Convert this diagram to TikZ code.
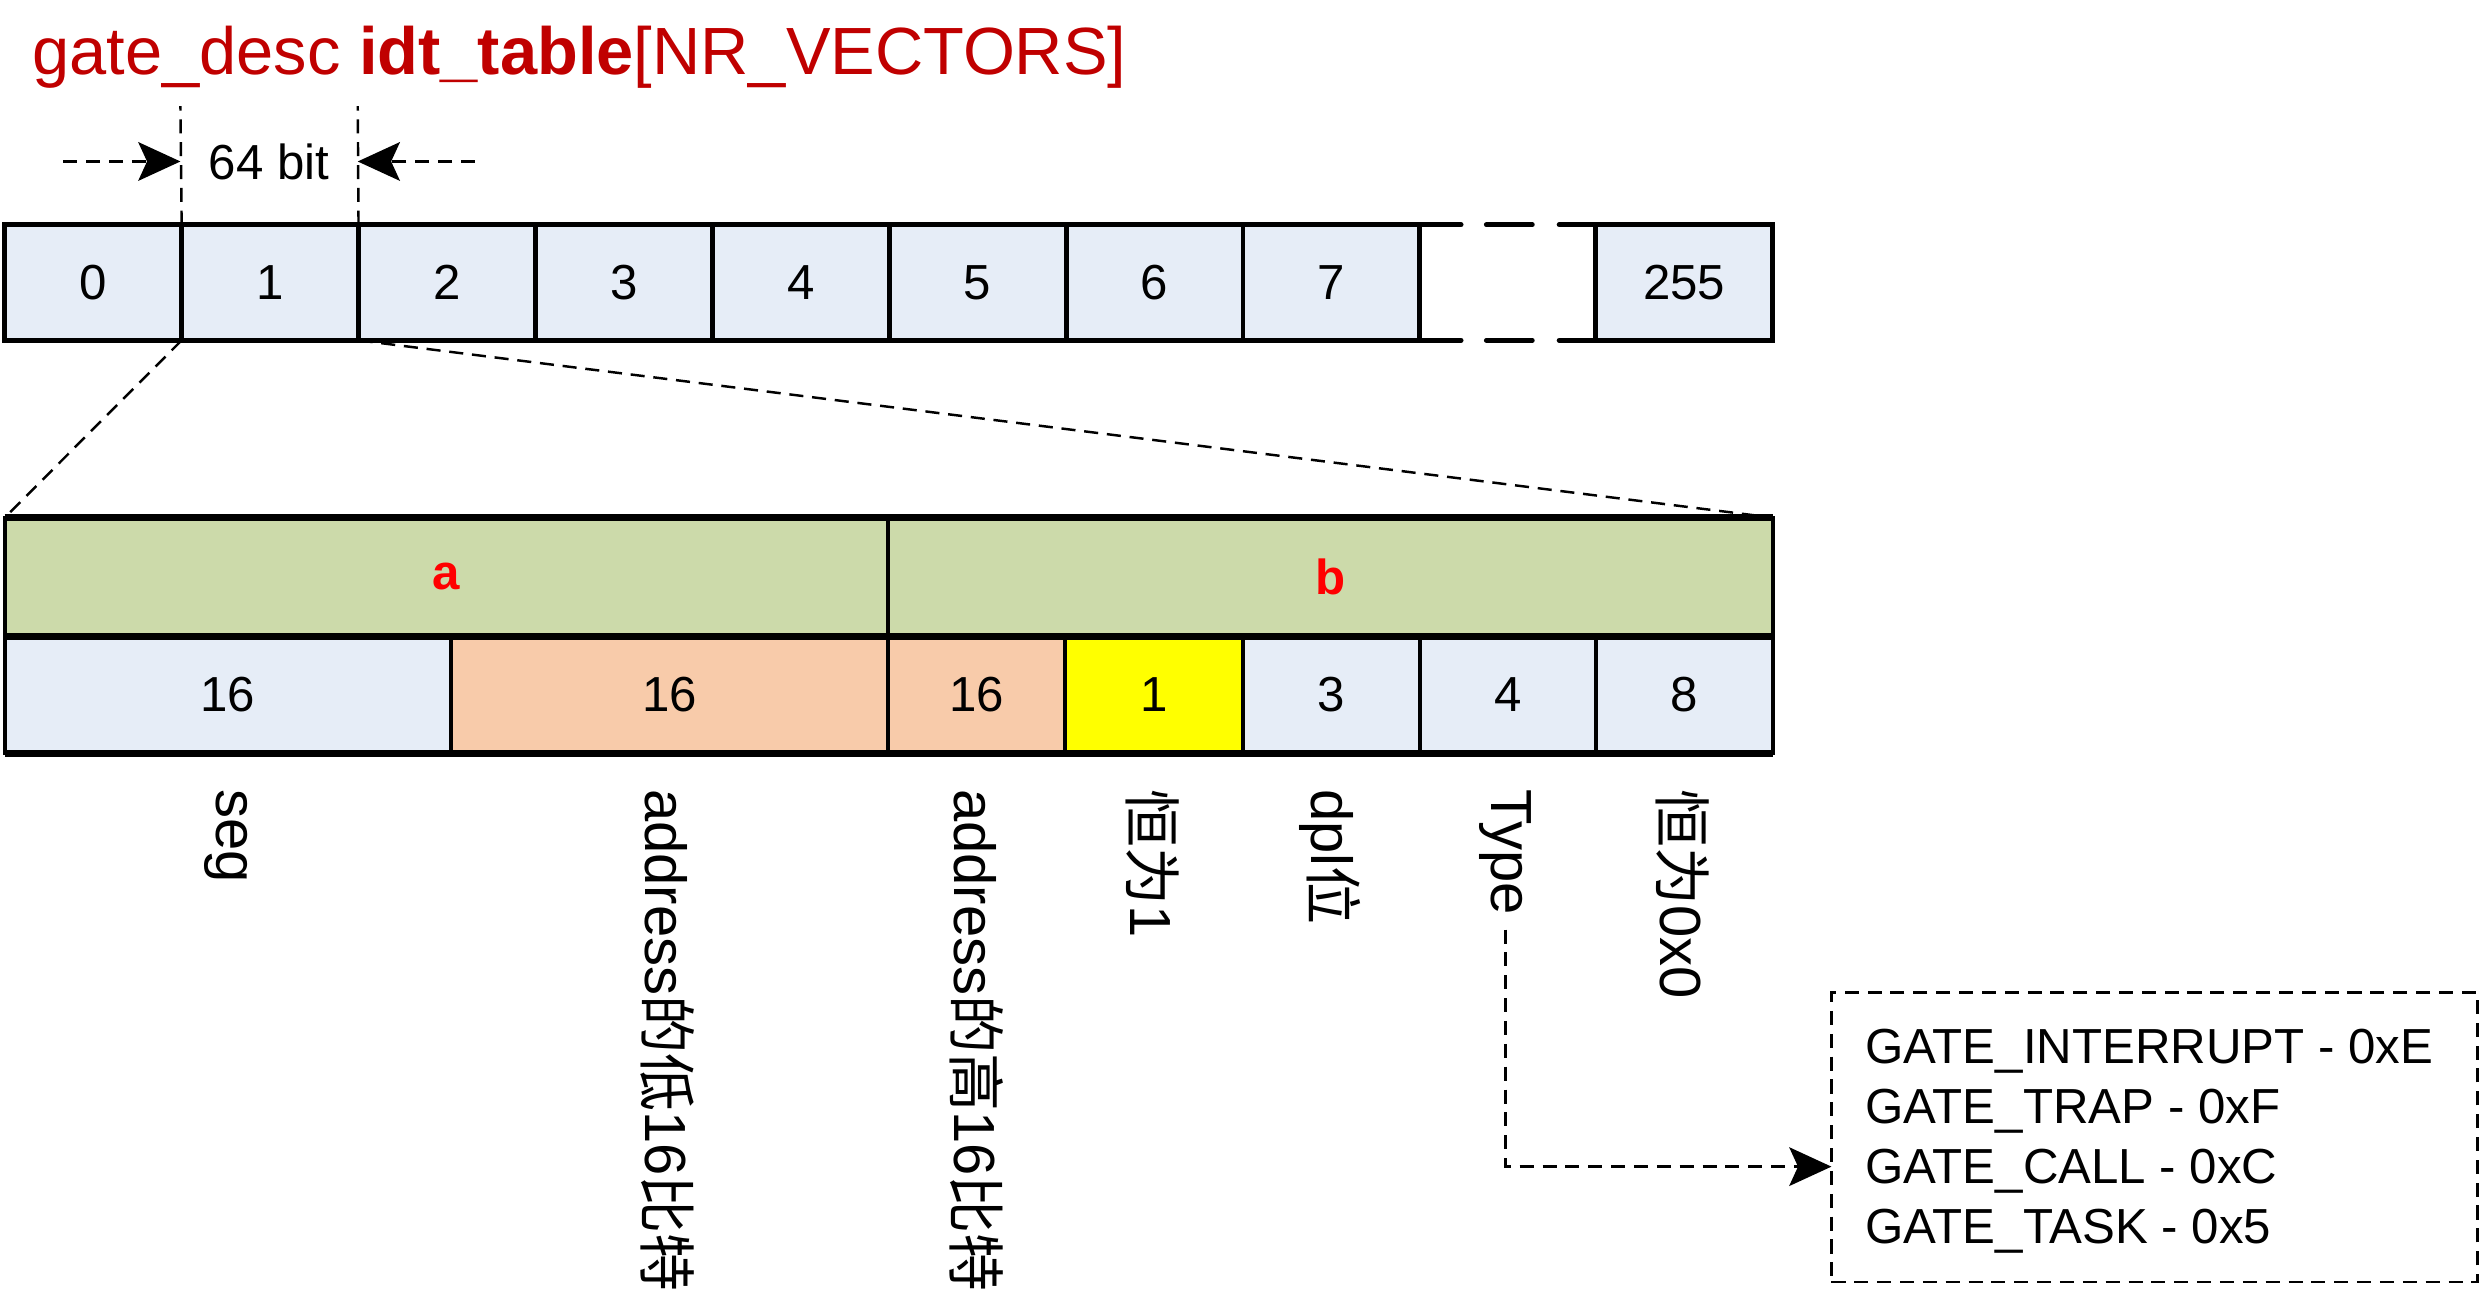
\documentclass[tikz,border=0pt]{standalone}
\usepackage{fontspec}
\setmainfont{Liberation Sans}
\newfontfamily\cjk{Noto Sans CJK SC}
\usetikzlibrary{arrows.meta}
\definecolor{cellblue}{HTML}{E6EDF7}
\definecolor{cellgreen}{HTML}{CCDAAA}
\definecolor{cellpeach}{HTML}{F8CBAA}
\definecolor{cellyellow}{HTML}{FFFF00}
\definecolor{titlered}{HTML}{C00000}
\definecolor{labred}{HTML}{FF0000}
\begin{document}
\begin{tikzpicture}[x=0.01583cm, y=-0.01583cm,
  sz/.style 2 args={minimum width=#1*0.01583cm, minimum height=#2*0.01583cm, inner sep=0pt, outer sep=0pt},
  topcell/.style={draw, line width=1.4pt, fill=cellblue, font=\fontsize{14}{16}\selectfont},
  fieldcell/.style={draw, line width=1.1pt, font=\fontsize{14}{16}\selectfont},
  thickline/.style={line width=1.4pt, line cap=round},
  bordline/.style={line width=2pt},
  dashline/.style={line width=0.7pt, dash pattern=on 4pt off 2.5pt},
  dimarrow/.style={dashline, -{Stealth[length=12pt, width=11pt, inset=2.5pt]}},
  vlabel/.style={rotate=-90, anchor=west, inner sep=0pt, font=\fontsize{16.5}{18}\selectfont},
  partlabel/.style={text=labred, font=\fontsize{14}{16}\selectfont\bfseries}
]
\useasboundingbox (0,0) rectangle (1568,818);

% title
\node[anchor=base west, inner sep=0pt, text=titlered, font=\fontsize{19}{22}\selectfont] (title) at (20,47) {gate\_desc \textbf{idt\_table}[NR\_VECTORS]};

% top array
\foreach \i in {0,...,7}
  \node[topcell, sz={111.75}{73}] (c\i) at ({3+111.75*(\i+0.5)},178.5) {\i};
\node[topcell, sz={112}{73}] (c255) at (1064,178.5) {255};

% gap segments
\coordinate (gt1) at (939,142); \coordinate (gt2) at (968,142);
\coordinate (gb1) at (939,215); \coordinate (gb2) at (968,215);
\draw[thickline] (c7.north east) -- ++(26,0);
\draw[thickline] (c7.south east) -- ++(26,0);
\draw[thickline] (gt1) -- (gt2);
\draw[thickline] (gb1) -- (gb2);
\draw[thickline] (c255.north west) -- ++(-23,0);
\draw[thickline] (c255.south west) -- ++(-23,0);

% 64 bit dimension
\coordinate (d1) at (114,67); \coordinate (d2) at (226,67);
\draw[dashline] (c1.north west) -- (d1);
\draw[dashline] (c1.north east) -- (d2);
\node[font=\fontsize{14}{16}\selectfont] (bits) at (170,102) {64 bit};
\coordinate (la) at (40,102); \coordinate (lb) at (114,102);
\coordinate (ra) at (300,102); \coordinate (rb) at (226,102);
\draw[dimarrow] (la) -- (lb);
\draw[dimarrow] (ra) -- (rb);

% gate descriptor
\node[fieldcell, fill=cellgreen, sz={558}{75}] (ga) at (282,364.5) {};
\node[fieldcell, fill=cellgreen, sz={559}{75}] (gb) at (840.5,364.5) {};
\node[partlabel] (la1) at (ga.center) {a};
\node[partlabel] (lb1) at (gb.center) {b};

\node[fieldcell, fill=cellblue,   sz={282}{74}] (f1) at (144,439) {16};
\node[fieldcell, fill=cellpeach,  sz={276}{74}] (f2) at (423,439) {16};
\node[fieldcell, fill=cellpeach,  sz={112}{74}] (f3) at (617,439) {16};
\node[fieldcell, fill=cellyellow, sz={112}{74}] (f4) at (729,439) {1};
\node[fieldcell, fill=cellblue,   sz={112}{74}] (f5) at (841,439) {3};
\node[fieldcell, fill=cellblue,   sz={111}{74}] (f6) at (952.5,439) {4};
\node[fieldcell, fill=cellblue,   sz={112}{74}] (f7) at (1064,439) {8};

\draw[bordline] (ga.north west) -- (gb.north east);
\draw[bordline] (ga.south west) -- (gb.south east);
\draw[bordline] (f1.south west) -- (f7.south east);

% zoom lines
\draw[dashline] (c1.south west) -- (ga.north west);
\draw[dashline] (c1.south east) -- (gb.north east);

% field labels
\node[vlabel] (l1) at (143,498) {seg};
\node[vlabel] (l2) at (422,498) {address{\cjk 的低}16{\cjk 比特}};
\node[vlabel] (l3) at (617,498) {address{\cjk 的高}16{\cjk 比特}};
\node[vlabel] (l4) at (728,498) {{\cjk 恒为}1};
\node[vlabel] (l5) at (840,498) {dpl{\cjk 位}};
\node[vlabel] (l6) at (951,498) {Type};
\node[vlabel] (l7) at (1063,498) {{\cjk 恒为}0x0};

% type box
\node[draw, dashline, sz={408}{183}] (tbox) at (1361,718.5) {};
\node[anchor=west, inner sep=0pt, align=left, font=\fontsize{14}{17.1}\selectfont] (tlist) at (1178,721)
  {GATE\_INTERRUPT - 0xE\\GATE\_TRAP - 0xF\\GATE\_CALL - 0xC\\GATE\_TASK - 0x5};
\coordinate (tin) at (1157,737);
\draw[dimarrow, shorten <=4pt] (l6.east) |- (tin);
\end{tikzpicture}
\end{document}
